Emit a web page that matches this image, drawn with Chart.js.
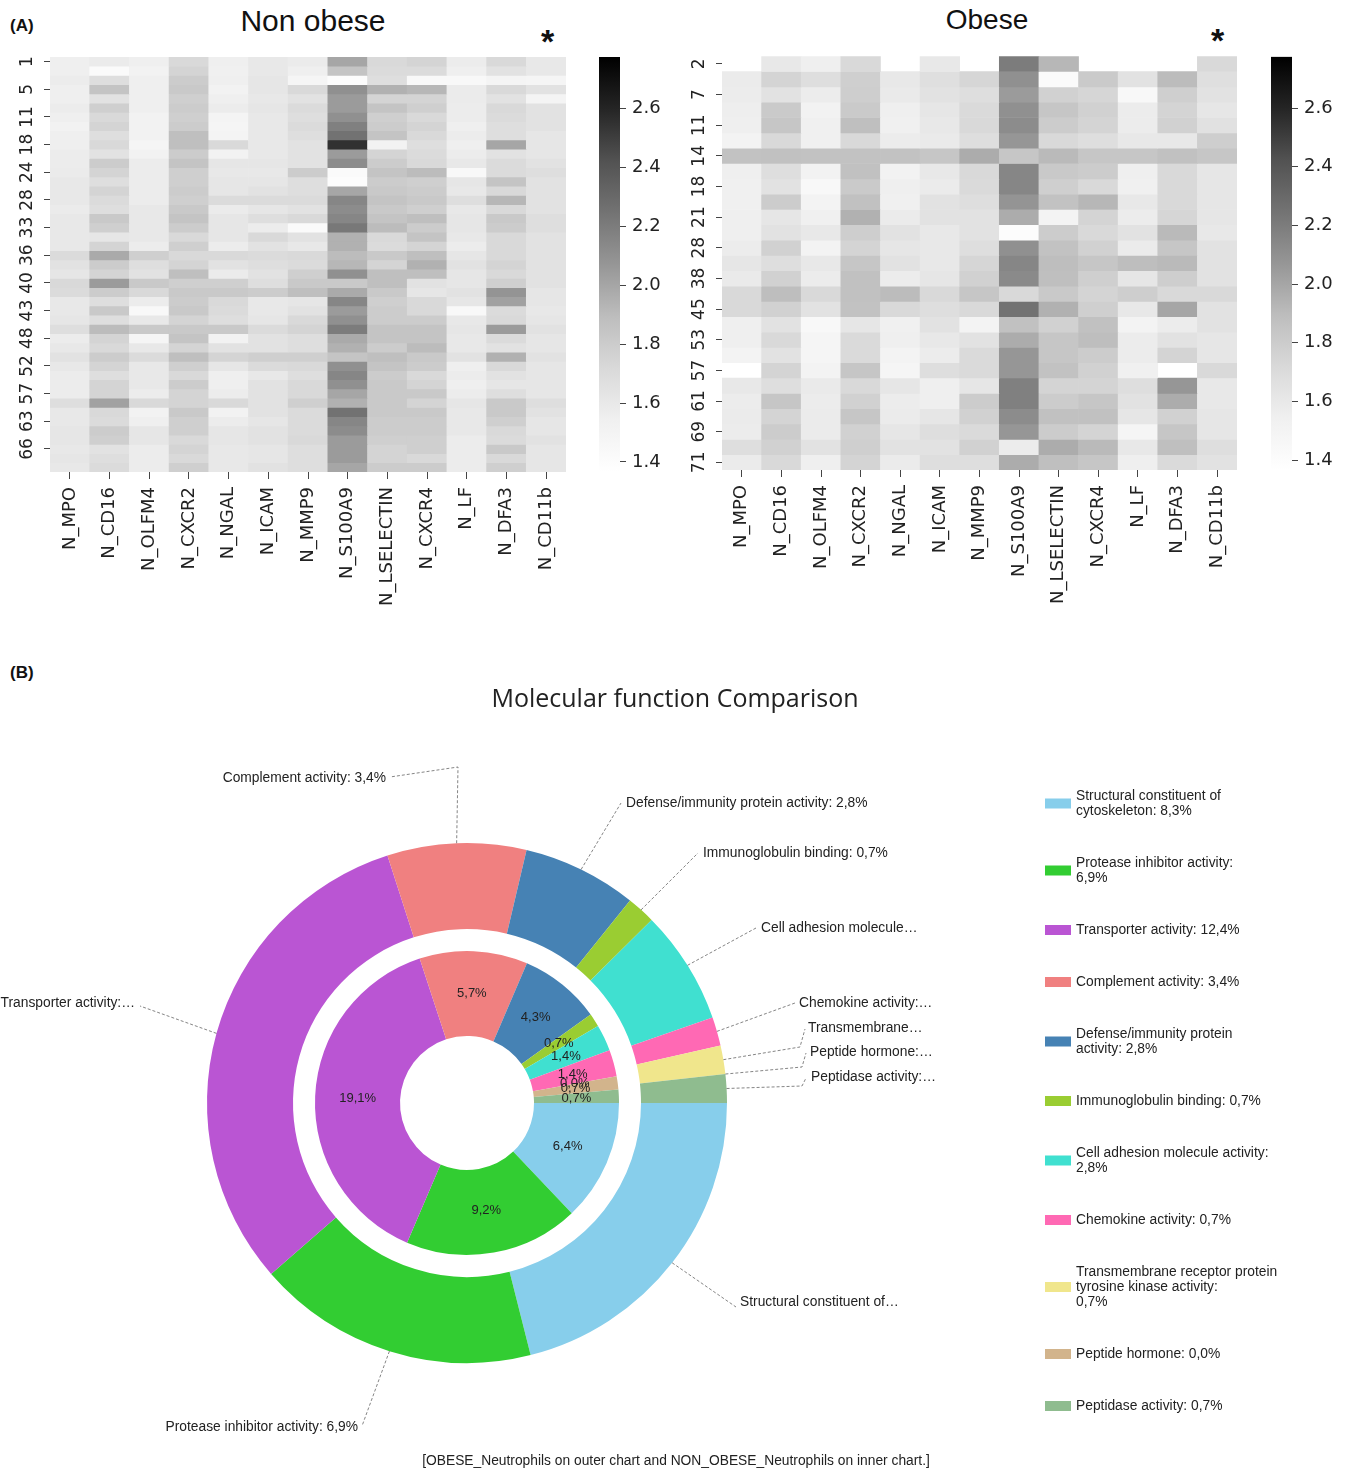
<!DOCTYPE html>
<html lang="en">
<head>
<meta charset="UTF-8" />
<title>Neutrophil markers and molecular function</title>
<script src="https://cdn.jsdelivr.net/npm/chart.js"></script>
<style>
  body { margin: 0; background: #fff; width: 1347px; height: 1473px; position: relative; overflow: hidden; }
  canvas, .txt { position: absolute; }
  .txt { white-space: nowrap; color: #111; font-family: "Liberation Sans", Arial, sans-serif; line-height: 1; }
</style>
</head>
<body>
<div class="txt" style="left:10px;top:17px;font-size:17px;font-weight:bold">(A)</div>
<div class="txt" style="left:163px;top:6px;width:300px;text-align:center;font-size:30px">Non obese</div>
<div class="txt" style="left:837px;top:6px;width:300px;text-align:center;font-size:28px">Obese</div>
<div class="txt" style="left:541px;top:24px;font-size:34px;font-weight:bold">*</div>
<div class="txt" style="left:1211px;top:23px;font-size:34px;font-weight:bold">*</div>

<canvas id="heatNon" width="590" height="585" style="left:0;top:40px"></canvas>
<canvas id="barNon" width="80" height="450" style="left:590px;top:40px"></canvas>
<canvas id="heatOb" width="600" height="585" style="left:660px;top:40px"></canvas>
<canvas id="barOb" width="85" height="450" style="left:1262px;top:40px"></canvas>

<div class="txt" style="left:10px;top:664px;font-size:17px;font-weight:bold">(B)</div>
<canvas id="pie" width="1347" height="823" style="left:0;top:650px"></canvas>
<div class="txt" style="left:375px;top:685px;width:600px;text-align:center;font-family:'Open Sans';font-size:25px;color:#222">Molecular function Comparison</div>
<div class="txt" style="left:326px;top:1454px;width:700px;text-align:center;font-size:13.8px;color:#222">[OBESE_Neutrophils on outer chart and NON_OBESE_Neutrophils on inner chart.]</div>

<script>
  // ---- heatmap data (panel A) ----
  const genes = ["N_MPO", "N_CD16", "N_OLFM4", "N_CXCR2", "N_NGAL", "N_ICAM", "N_MMP9",
    "N_S100A9", "N_LSELECTIN", "N_CXCR4", "N_LF", "N_DFA3", "N_CD11b"];

  // only every 3rd / 2nd row carries a label in the picture
  const nonObeseTicks = ["1", "5", "11", "18", "24", "28", "33", "36", "40", "43", "48", "52", "57", "63", "66"];
  const obeseTicks = ["2", "7", "11", "14", "18", "21", "28", "38", "45", "53", "57", "61", "69", "71"];

  const nonObeseRows = [
    [1.55,1.58,1.55,1.72,1.55,1.60,1.58,2.00,1.72,1.75,1.57,1.72,1.60],
    [1.55,1.42,1.52,1.75,1.54,1.60,1.55,1.85,1.70,1.70,1.55,1.65,1.60],
    [1.57,1.68,1.55,1.80,1.55,1.62,1.48,1.40,1.68,1.45,1.45,1.50,1.48],
    [1.55,1.85,1.55,1.82,1.52,1.62,1.72,2.10,1.95,1.92,1.58,1.72,1.65],
    [1.55,1.65,1.55,1.78,1.55,1.60,1.65,2.05,1.75,1.75,1.58,1.65,1.50],
    [1.57,1.78,1.55,1.80,1.57,1.62,1.70,2.05,1.85,1.78,1.57,1.72,1.65],
    [1.55,1.72,1.52,1.78,1.50,1.60,1.68,2.10,1.78,1.72,1.57,1.70,1.65],
    [1.52,1.75,1.52,1.80,1.48,1.60,1.70,2.18,1.80,1.75,1.55,1.68,1.65],
    [1.55,1.68,1.52,1.88,1.50,1.60,1.68,2.25,1.85,1.72,1.57,1.68,1.62],
    [1.55,1.72,1.48,1.88,1.72,1.60,1.65,2.55,1.52,1.68,1.55,2.00,1.62],
    [1.57,1.65,1.52,1.80,1.52,1.60,1.65,2.05,1.75,1.70,1.57,1.65,1.62],
    [1.57,1.80,1.57,1.85,1.62,1.62,1.65,2.12,1.80,1.72,1.60,1.70,1.65],
    [1.58,1.75,1.57,1.78,1.60,1.60,1.80,1.42,1.85,1.90,1.45,1.70,1.68],
    [1.60,1.68,1.57,1.78,1.62,1.62,1.68,1.40,1.80,1.78,1.62,1.85,1.65],
    [1.60,1.75,1.57,1.80,1.62,1.65,1.68,2.00,1.82,1.80,1.60,1.72,1.65],
    [1.60,1.70,1.57,1.78,1.70,1.70,1.70,2.15,1.85,1.82,1.68,1.92,1.65],
    [1.58,1.68,1.60,1.82,1.58,1.62,1.65,2.12,1.82,1.78,1.60,1.72,1.65],
    [1.60,1.82,1.60,1.85,1.62,1.68,1.72,2.15,1.85,1.88,1.62,1.82,1.68],
    [1.60,1.78,1.60,1.80,1.62,1.57,1.42,2.22,1.90,1.80,1.62,1.80,1.68],
    [1.60,1.62,1.60,1.72,1.62,1.72,1.65,1.95,1.72,1.85,1.60,1.72,1.65],
    [1.60,1.75,1.57,1.78,1.57,1.65,1.60,1.95,1.70,1.75,1.57,1.72,1.65],
    [1.70,1.98,1.78,1.72,1.72,1.70,1.72,1.90,1.82,1.88,1.62,1.72,1.65],
    [1.65,1.80,1.68,1.75,1.65,1.68,1.70,1.92,1.75,1.95,1.65,1.75,1.65],
    [1.62,1.75,1.65,1.88,1.58,1.65,1.78,2.10,1.88,1.88,1.62,1.72,1.65],
    [1.72,2.05,1.82,1.78,1.78,1.68,1.82,1.82,1.88,1.65,1.62,1.78,1.65],
    [1.70,1.80,1.72,1.82,1.82,1.80,1.88,1.98,1.82,1.62,1.65,2.08,1.62],
    [1.60,1.68,1.57,1.80,1.72,1.60,1.62,2.15,1.78,1.72,1.62,2.02,1.62],
    [1.60,1.82,1.45,1.82,1.70,1.60,1.65,2.05,1.80,1.72,1.45,1.70,1.60],
    [1.62,1.68,1.60,1.75,1.68,1.62,1.72,2.10,1.80,1.80,1.60,1.72,1.62],
    [1.68,1.90,1.82,1.82,1.82,1.70,1.75,2.20,1.85,1.85,1.62,2.05,1.65],
    [1.57,1.75,1.48,1.85,1.52,1.65,1.68,1.98,1.85,1.85,1.60,1.70,1.62],
    [1.60,1.72,1.60,1.75,1.65,1.65,1.68,1.95,1.80,1.90,1.60,1.65,1.62],
    [1.65,1.80,1.70,1.88,1.75,1.78,1.78,1.85,1.88,1.82,1.65,1.95,1.65],
    [1.60,1.75,1.60,1.78,1.62,1.70,1.72,2.10,1.85,1.80,1.55,1.72,1.62],
    [1.57,1.68,1.60,1.72,1.55,1.60,1.68,2.15,1.80,1.72,1.57,1.65,1.62],
    [1.57,1.75,1.60,1.80,1.55,1.65,1.72,2.10,1.82,1.75,1.55,1.62,1.62],
    [1.57,1.75,1.57,1.75,1.57,1.65,1.72,2.00,1.82,1.82,1.57,1.68,1.62],
    [1.68,2.02,1.72,1.75,1.72,1.65,1.78,1.95,1.82,1.75,1.62,1.82,1.68],
    [1.60,1.72,1.52,1.82,1.52,1.65,1.70,2.25,1.82,1.82,1.60,1.82,1.65],
    [1.60,1.70,1.55,1.78,1.57,1.62,1.70,2.15,1.80,1.80,1.60,1.78,1.62],
    [1.62,1.80,1.62,1.78,1.62,1.65,1.70,2.12,1.80,1.80,1.60,1.72,1.62],
    [1.62,1.78,1.62,1.72,1.62,1.65,1.72,2.05,1.78,1.78,1.57,1.70,1.65],
    [1.60,1.65,1.57,1.75,1.60,1.62,1.68,2.05,1.75,1.78,1.57,1.82,1.62],
    [1.62,1.68,1.57,1.72,1.60,1.62,1.68,2.05,1.75,1.72,1.57,1.72,1.62],
    [1.60,1.70,1.57,1.78,1.60,1.65,1.68,2.00,1.80,1.80,1.57,1.78,1.62]
  ];

  // null = empty (NaN) cell
  const obeseRows = [
    [null,1.60,1.55,1.72,null,1.60,null,2.20,1.92,null,null,null,1.72],
    [1.58,1.75,1.68,1.78,1.60,1.67,1.74,2.10,1.42,1.81,1.65,1.90,1.67],
    [1.57,1.65,1.57,1.79,1.59,1.65,1.68,2.05,1.77,1.74,1.45,1.78,1.65],
    [1.56,1.81,1.52,1.81,1.55,1.62,1.71,2.10,1.84,1.77,1.57,1.75,1.62],
    [1.55,1.84,1.54,1.88,1.54,1.60,1.72,2.12,1.80,1.75,1.57,1.77,1.66],
    [1.51,1.72,1.54,1.72,1.57,1.59,1.68,2.07,1.72,1.68,1.60,1.60,1.79],
    [1.86,1.87,1.86,1.86,1.86,1.84,1.97,1.84,1.91,1.84,1.84,1.87,1.84],
    [1.55,1.68,1.52,1.87,1.52,1.60,1.72,2.15,1.82,1.80,1.55,1.72,1.62],
    [1.54,1.65,1.45,1.81,1.55,1.58,1.71,2.15,1.78,1.72,1.54,1.72,1.62],
    [1.54,1.80,1.51,1.87,1.54,1.65,1.68,2.08,1.86,1.92,1.60,1.72,1.62],
    [1.55,1.62,1.54,1.95,1.58,1.65,1.65,1.97,1.51,1.75,1.57,1.74,1.62],
    [1.55,1.65,1.60,1.79,1.65,1.60,1.65,1.40,1.80,1.72,1.65,1.91,1.60],
    [1.57,1.77,1.51,1.75,1.62,1.60,1.68,2.10,1.86,1.77,1.58,1.84,1.65],
    [1.62,1.68,1.60,1.84,1.65,1.60,1.74,2.15,1.89,1.84,1.89,1.91,1.65],
    [1.59,1.77,1.57,1.87,1.57,1.62,1.77,2.13,1.88,1.78,1.62,1.79,1.65],
    [1.72,1.89,1.72,1.87,1.90,1.72,1.84,1.72,1.82,1.75,1.79,1.72,1.72],
    [1.72,1.77,1.65,1.86,1.72,1.68,1.72,2.25,1.95,1.78,1.60,2.00,1.65],
    [1.55,1.65,1.45,1.62,1.54,1.65,1.51,1.87,1.77,1.87,1.51,1.57,1.65],
    [1.55,1.72,1.48,1.71,1.55,1.60,1.65,1.97,1.84,1.89,1.57,1.65,1.62],
    [1.51,1.65,1.48,1.71,1.51,1.57,1.71,2.07,1.84,1.80,1.57,1.75,1.62],
    [null,1.75,1.51,1.84,1.48,1.68,1.71,2.07,1.86,1.77,1.54,null,1.72],
    [1.60,1.68,1.59,1.72,1.62,1.55,1.62,2.18,1.75,1.75,1.68,2.07,1.60],
    [1.57,1.84,1.57,1.77,1.57,1.55,1.80,2.18,1.80,1.84,1.65,1.97,1.60],
    [1.58,1.75,1.58,1.84,1.58,1.62,1.77,2.12,1.87,1.87,1.62,1.77,1.62],
    [1.57,1.80,1.58,1.77,1.62,1.68,1.71,2.07,1.80,1.75,1.48,1.84,1.62],
    [1.68,1.77,1.65,1.78,1.65,1.65,1.77,1.57,1.97,1.91,1.60,1.88,1.68],
    [1.58,1.72,1.55,1.75,1.58,1.68,1.68,1.97,1.88,1.84,1.55,1.71,1.65]
  ];

  const cbMin = 1.366;
  const cbMax = 2.775;
  const cbTicks = [1.4, 1.6, 1.8, 2.0, 2.2, 2.4, 2.6];

  // ---- molecular function data (panel B) ----
  const categories = ["Structural constituent of cytoskeleton", "Protease inhibitor activity",
    "Transporter activity", "Complement activity", "Defense/immunity protein activity",
    "Immunoglobulin binding", "Cell adhesion molecule activity", "Chemokine activity",
    "Transmembrane receptor protein tyrosine kinase activity", "Peptide hormone", "Peptidase activity"];
  const obesePct = [8.3, 6.9, 12.4, 3.4, 2.8, 0.7, 2.8, 0.7, 0.7, 0.0, 0.7];
  const nonObesePct = [6.4, 9.2, 19.1, 5.7, 4.3, 0.7, 1.4, 1.4, 0.0, 0.7, 0.7];
  const calloutText = ["Structural constituent of\u2026", "Protease inhibitor activity: 6,9%",
    "Transporter activity:\u2026", "Complement activity: 3,4%", "Defense/immunity protein activity: 2,8%",
    "Immunoglobulin binding: 0,7%", "Cell adhesion molecule\u2026", "Chemokine activity:\u2026",
    "Transmembrane\u2026", "Peptide hormone:\u2026", "Peptidase activity:\u2026"];
  const sliceColors = ["#87ceeb", "#32cd32", "#ba55d3", "#f08080", "#4682b4", "#9acd32",
    "#40e0d0", "#ff69b4", "#f0e68c", "#d2b48c", "#8fbc8f"];
  // words per legend line (as wrapped in the picture)
  const legendBreaks = [[3], [3], [], [], [2], [], [4], [], [3, 6], [], []];

  // ---- helpers ----
  const GREYS = [255, 240, 217, 189, 150, 115, 82, 37, 0];   // matplotlib "Greys"
  function greyAt(t) {
    t = Math.max(0, Math.min(1, t));
    const p = t * 8;
    const i = Math.min(7, Math.floor(p));
    const g = Math.round(GREYS[i] + (GREYS[i + 1] - GREYS[i]) * (p - i));
    return "rgb(" + g + "," + g + "," + g + ")";
  }
  function greyFor(v) {
    if (v === null) return "rgba(0,0,0,0)";
    return greyAt((v - cbMin) / (cbMax - cbMin));
  }
  const fmtPct = v => v.toFixed(1).replace(".", ",") + "%";

  const tickFont = { family: "DejaVu Sans", size: 17 };

  function heatmap(id, rows, tickLabels, step, pad, yWidth, xHeight) {
    const datasets = rows.map((row, r) => ({
      data: genes.map(() => [r, r + 1]),
      backgroundColor: row.map(greyFor),
      borderWidth: 0,
      barPercentage: 1,
      categoryPercentage: 1
    }));
    return new Chart(document.getElementById(id), {
      type: "bar",
      data: { labels: genes, datasets: datasets },
      options: {
        responsive: false,
        animation: false,
        events: [],
        layout: { padding: pad },
        plugins: { legend: { display: false }, tooltip: { enabled: false } },
        scales: {
          x: {
            stacked: true,
            grid: { offset: false, drawOnChartArea: false, tickLength: 7, color: "#444" },
            border: { display: false },
            ticks: { autoSkip: false, minRotation: 90, maxRotation: 90, padding: 8, color: "#222",
              font: { family: "DejaVu Sans", size: 18 } },
            afterFit: s => { s.height = xHeight; }
          },
          y: {
            stacked: false,
            min: 0,
            max: rows.length,
            reverse: true,
            grid: { drawOnChartArea: false, tickLength: 6, color: "#444" },
            border: { display: false },
            afterBuildTicks: s => { s.ticks = tickLabels.map((_, i) => ({ value: i * step + 0.5 })); },
            ticks: { autoSkip: false, minRotation: 90, maxRotation: 90, crossAlign: "center", padding: 6,
              color: "#222", font: tickFont, callback: (v, i) => tickLabels[i] },
            afterFit: s => { s.width = yWidth; }
          }
        }
      }
    });
  }

  function colorbar(id, pad, yWidth) {
    return new Chart(document.getElementById(id), {
      type: "bar",
      data: {
        labels: [""],
        datasets: [{
          data: [[cbMin, cbMax]],
          borderWidth: 0,
          barPercentage: 1,
          categoryPercentage: 1,
          backgroundColor: ctx => {
            const area = ctx.chart.chartArea;
            if (!area || !isFinite(area.top) || !isFinite(area.bottom)) return "#999";
            const g = ctx.chart.ctx.createLinearGradient(0, area.bottom, 0, area.top);
            for (let k = 0; k <= 8; k++) g.addColorStop(k / 8, greyAt(k / 8));
            return g;
          }
        }]
      },
      options: {
        responsive: false,
        animation: false,
        events: [],
        layout: { padding: pad },
        plugins: { legend: { display: false }, tooltip: { enabled: false } },
        scales: {
          x: { display: false },
          y: {
            position: "right",
            min: cbMin,
            max: cbMax,
            grid: { drawOnChartArea: false, tickLength: 6, color: "#444" },
            border: { display: false },
            afterBuildTicks: s => { s.ticks = cbTicks.map(v => ({ value: v })); },
            ticks: { padding: 6, color: "#222", font: { family: "DejaVu Sans", size: 18 },
              callback: v => v.toFixed(1) },
            afterFit: s => { s.width = yWidth; }
          }
        }
      }
    });
  }

  heatmap("heatNon", nonObeseRows, nonObeseTicks, 3, { top: 17, right: 24, bottom: 0, left: 0 }, 50, 153);
  colorbar("barNon", { top: 17, right: 0, bottom: 18, left: 9 }, 50);
  heatmap("heatOb", obeseRows, obeseTicks, 2, { top: 12, right: 23, bottom: 0, left: 0 }, 62, 155);
  colorbar("barOb", { top: 13, right: 0, bottom: 20, left: 9 }, 55);

  // ---- panel B: two-ring doughnut with callouts and legend ----
  // leader elbows and label anchors, in canvas pixels
  const calloutLayout = [
    { pts: [[736, 657]], x: 740, y: 652, align: "left" },
    { pts: [[362, 776]], x: 358, y: 777, align: "right" },
    { pts: [[140, 356]], x: 135, y: 353, align: "right" },
    { pts: [[458, 117], [390, 127]], x: 386, y: 128, align: "right" },
    { pts: [[621, 153]], x: 626, y: 153, align: "left" },
    { pts: [[698, 203]], x: 703, y: 203, align: "left" },
    { pts: [[756, 278]], x: 761, y: 278, align: "left" },
    { pts: [[795, 353]], x: 799, y: 353, align: "left" },
    { pts: [[800, 397], [805, 379]], x: 808, y: 378, align: "left" },
    { pts: [[802, 417], [806, 403]], x: 810, y: 402, align: "left" },
    { pts: [[802, 436], [806, 428]], x: 811, y: 427, align: "left" }
  ];

  function splitAt(text, breaks) {
    const words = text.split(" ");
    const cuts = [0].concat(breaks, [words.length]);
    const lines = [];
    for (let k = 0; k < cuts.length - 1; k++) lines.push(words.slice(cuts[k], cuts[k + 1]).join(" "));
    return lines;
  }

  const pieDecor = {
    id: "pieDecor",
    afterDatasetsDraw(chart) {
      const ctx = chart.ctx;
      ctx.save();
      ctx.textBaseline = "middle";

      // percentages inside the inner ring
      ctx.font = '13px "Liberation Sans"';
      ctx.fillStyle = "#222";
      ctx.textAlign = "center";
      chart.getDatasetMeta(2).data.forEach((arc, i) => {
        const p = arc.getCenterPoint();
        ctx.fillText(fmtPct(nonObesePct[i]), p.x, p.y);
      });

      // callouts of the outer ring
      ctx.font = '13.8px "Liberation Sans"';
      chart.getDatasetMeta(0).data.forEach((arc, i) => {
        const a = arc.getProps(["x", "y", "startAngle", "endAngle", "outerRadius"], true);
        const mid = (a.startAngle + a.endAngle) / 2;
        const lay = calloutLayout[i];
        ctx.beginPath();
        ctx.moveTo(a.x + Math.cos(mid) * a.outerRadius, a.y + Math.sin(mid) * a.outerRadius);
        lay.pts.forEach(p => ctx.lineTo(p[0], p[1]));
        ctx.strokeStyle = "#666";
        ctx.lineWidth = 0.8;
        ctx.setLineDash([3, 2]);
        ctx.stroke();
        ctx.setLineDash([]);
        ctx.fillStyle = "#222";
        ctx.textAlign = lay.align;
        ctx.fillText(calloutText[i], lay.x, lay.y);
      });

      // legend on the right
      ctx.textAlign = "left";
      let y = 146;
      categories.forEach((c, i) => {
        const lines = splitAt(c + ": " + fmtPct(obesePct[i]), legendBreaks[i]);
        const mid = y + (lines.length - 1) * 15 / 2;
        ctx.fillStyle = sliceColors[i];
        ctx.fillRect(1045, mid - 5, 26, 10);
        ctx.fillStyle = "#222";
        lines.forEach((ln, k) => ctx.fillText(ln, 1076, y + k * 15));
        y += (lines.length - 1) * 15 + 52;
      });
      ctx.restore();
    }
  };

  new Chart(document.getElementById("pie"), {
    type: "doughnut",
    data: {
      labels: categories,
      datasets: [
        { label: "OBESE_Neutrophils", data: obesePct, backgroundColor: sliceColors, weight: 86 },
        { label: "gap", data: [1], backgroundColor: "rgba(0,0,0,0)", weight: 22 },
        { label: "NON_OBESE_Neutrophils", data: nonObesePct, backgroundColor: sliceColors, weight: 85 }
      ]
    },
    options: {
      responsive: false,
      animation: false,
      events: [],
      rotation: 90,
      cutout: "25.77%",
      borderWidth: 0,
      hoverOffset: 0,
      layout: { padding: { top: 193, right: 620, bottom: 110, left: 207 } },
      plugins: { legend: { display: false }, tooltip: { enabled: false } }
    },
    plugins: [pieDecor]
  });
</script>
</body>
</html>
